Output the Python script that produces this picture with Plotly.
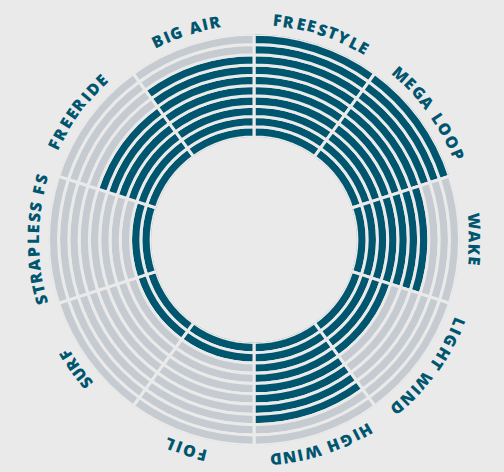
import math
import plotly.graph_objects as go

# ---- data ----
categories = ["FREESTYLE", "MEGA LOOP", "WAKE", "LIGHT WIND", "HIGH WIND",
              "FOIL", "SURF", "STRAPLESS FS", "FREERIDE", "BIG AIR"]
values = [10, 10, 7, 4, 8, 2, 2, 2, 6, 8]
max_level = 10

# ---- style ----
BG = "#EAEAEA"
DARK = "#00566F"
LIGHT = "#C5CBD0"
W, H = 504, 472
CX, CY = 254.0, 239.7          # centre in px (from top-left)
R_AXIS = 205.5                 # outer radius of polar area in px
R_TEXT = 221.0
FONT_SIZE = 16
TRACK = 2.2
FONT = "Open Sans"

n = len(categories)
step = 360.0 / n
centers = [step / 2 + step * i for i in range(n)]

fig = go.Figure()
for k in range(1, max_level + 1):
    fig.add_trace(go.Barpolar(
        theta=centers,
        r=[1] * n,
        base=[k - 1] * n,
        width=[step] * n,
        marker=dict(color=[DARK if v >= k else LIGHT for v in values],
                    line=dict(color=BG, width=3)),
        hoverinfo="skip",
        showlegend=False,
    ))

# glyph widths (per 1000 em) for a bold sans
GW = {"A": 690, "B": 662, "C": 632, "D": 738, "E": 556, "F": 540, "G": 726,
      "H": 754, "I": 330, "K": 660, "L": 557, "M": 880, "N": 780, "O": 786,
      "P": 627, "R": 664, "S": 554, "T": 573, "W": 960, "Y": 610, " ": 260}

annotations = []
for lab, tc in zip(categories, centers):
    ws = [GW.get(ch, 600) * FONT_SIZE / 1000.0 for ch in lab]
    total = sum(ws) + TRACK * (len(ws) - 1)
    pos = -total / 2
    for ch, w in zip(lab, ws):
        s = pos + w / 2
        pos += w + TRACK
        if ch == " ":
            continue
        th = tc + math.degrees(s / R_TEXT)
        px = CX + R_TEXT * math.sin(math.radians(th))
        py = CY - R_TEXT * math.cos(math.radians(th))
        annotations.append(dict(
            x=px / W, y=1 - py / H, xref="paper", yref="paper",
            text=ch, showarrow=False, textangle=th,
            xanchor="center", yanchor="middle",
            font=dict(family=FONT, size=FONT_SIZE, color=DARK, weight=800),
        ))

fig.update_layout(
    width=W, height=H,
    margin=dict(l=0, r=0, t=0, b=0),
    paper_bgcolor=BG, plot_bgcolor=BG,
    hovermode=False,
    polar=dict(
        domain=dict(x=[(CX - R_AXIS) / W, (CX + R_AXIS) / W],
                    y=[(H - CY - R_AXIS) / H, (H - CY + R_AXIS) / H]),
        bgcolor=BG,
        hole=0.5,
        barmode="overlay",
        radialaxis=dict(range=[0, max_level], visible=False,
                        showgrid=False, showline=False, showticklabels=False),
        angularaxis=dict(rotation=90, direction="clockwise", visible=False,
                         showgrid=False, showline=False, showticklabels=False,
                         ticks=""),
    ),
    annotations=annotations,
)

fig.write_html(
    "out.html",
    config={"displayModeBar": False, "staticPlot": True},
    post_script=("document.body.style.margin='0';"
                 "document.body.style.overflow='hidden';"
                 "document.body.style.background='" + BG + "';"),
)
